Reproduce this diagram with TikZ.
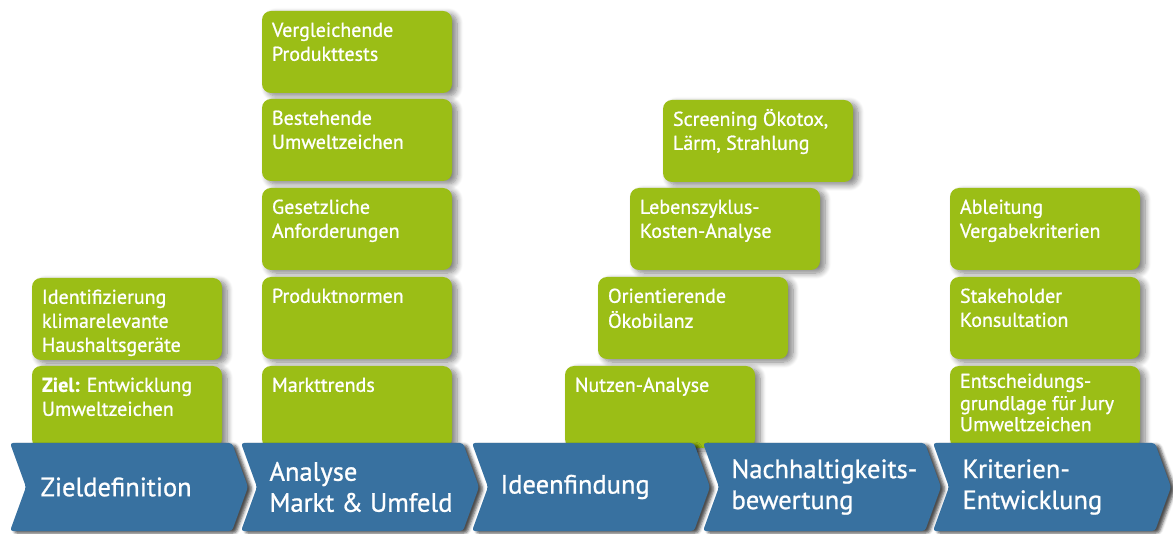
\documentclass[tikz,border=0pt]{standalone}
\usepackage{fontspec}
\setmainfont{PT Sans}[FakeBold=0.9]
\usetikzlibrary{shapes.symbols,shadows.blur}
\definecolor{stepgreen}{RGB}{155,190,22}
\definecolor{phaseblue}{RGB}{56,113,160}
\tikzset{
  task/.style={rectangle, rounded corners=9pt, fill=stepgreen, text=white,
    anchor=north west, inner xsep=10pt, inner ysep=0pt, outer sep=0pt,
    font=\fontsize{20}{24}\selectfont,
    blur shadow={shadow xshift=5pt, shadow yshift=-3pt, shadow blur radius=6pt,
      shadow blur steps=8, shadow opacity=50}},
  phase/.style={signal, signal to=east, signal from=west, signal pointer angle=140,
    fill=phaseblue, minimum width=238pt, minimum height=88pt, inner sep=0pt,
    rounded corners=3pt,
    blur shadow={shadow xshift=4pt, shadow yshift=-2pt, shadow blur radius=3pt,
      shadow opacity=70}},
  phasetext/.style={anchor=west, text=white, align=left,
    font=\fontsize{26.5}{31}\selectfont}
}
% top-aligned text block of a task box
\newcommand{\taskbox}[2][9pt]{\parbox[c][82pt][t]{170pt}{\vspace{#1}\strut #2}}
\begin{document}
\begin{tikzpicture}[x=1pt,y=-1pt]
\useasboundingbox (0,0) rectangle (1173,534);

% column 1: goal definition
\node[task] (ident) at (32,278) {\taskbox{Identifizierung\\klimarelevante\\Haushaltsgeräte}};
\node[task] (ziel)  at (32,366) {\taskbox{\textbf{Ziel:} Entwicklung\\Umweltzeichen}};

% column 2: market analysis
\node[task] (tests)   at (262,11)  {\taskbox{Vergleichende\\Produkttests}};
\node[task] (labels)  at (262,99)  {\taskbox{Bestehende\\Umweltzeichen}};
\node[task] (gesetz)  at (262,188) {\taskbox{Gesetzliche\\Anforderungen}};
\node[task] (normen)  at (262,277) {\taskbox{Produktnormen}};
\node[task] (trends)  at (262,366) {\taskbox{Markttrends}};

% column 4: sustainability assessment (staircase)
\node[task] (screen)  at (663,100) {\taskbox{Screening Ökotox,\\Lärm, Strahlung}};
\node[task] (lcc)     at (630,188) {\taskbox{Lebenszyklus-\\Kosten-Analyse}};
\node[task] (oeko)    at (598,277) {\taskbox{Orientierende\\Ökobilanz}};
\node[task] (nutzen)  at (565,366) {\taskbox{Nutzen-Analyse}};

% column 5: criteria development
\node[task] (ableit)  at (950,188) {\taskbox{Ableitung\\Vergabekriterien}};
\node[task] (stake)   at (950,277) {\taskbox{Stakeholder\\Konsultation}};
\node[task] (jury)    at (950,366) {\taskbox[5pt]{\fontsize{20}{21}\selectfont
  Entscheidungs-\\grundlage für Jury\\Umweltzeichen}};

% process chevrons
\node[phase] (p1) at (129,487) {};
\node[phase] (p2) at (360,487) {};
\node[phase] (p3) at (591,487) {};
\node[phase] (p4) at (822,487) {};
\node[phase] (p5) at (1052,487) {};

\node[phasetext] (t1) at (37,487)  {Zieldefinition};
\node[phasetext] (t2) at (266,487) {Analyse\\Markt \& Umfeld};
\node[phasetext] (t3) at (497,487) {Ideenfindung};
\node[phasetext] (t4) at (728,487) {Nachhaltigkeits-\\bewertung};
\node[phasetext] (t5) at (959,487) {Kriterien-\\Entwicklung};
\end{tikzpicture}
\end{document}
